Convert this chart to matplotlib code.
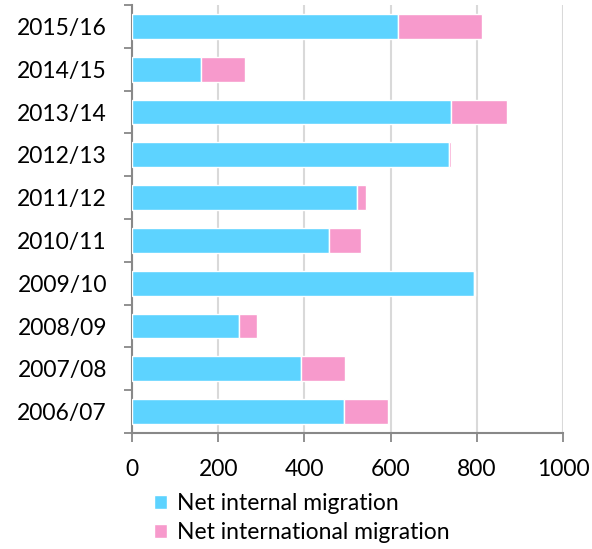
import numpy as np
import matplotlib
matplotlib.use('Agg')
import matplotlib.pyplot as plt
from matplotlib.ticker import FixedLocator

# Data (thousands)
years = ['2006/07', '2007/08', '2008/09', '2009/10', '2010/11',
         '2011/12', '2012/13', '2013/14', '2014/15', '2015/16']
internal = [492, 391, 248, 793, 458, 521, 735, 739, 159, 618]
international = [103, 103, 42, 2, 74, 21, 4, 131, 104, 193]

plt.rcParams['font.family'] = ['Lato', 'DejaVu Sans']

blue = '#5dd3ff'
pink = '#f79acc'

fig = plt.figure(figsize=(5.92, 5.49), dpi=100)
ax = fig.add_axes([132 / 592, 1 - 433 / 549, (563 - 132) / 592, (433 - 5) / 549])

y = np.arange(len(years))
ax.barh(y, internal, height=0.58, color=blue, edgecolor='white', linewidth=1,
        label='Net internal migration', zorder=3)
ax.barh(y, international, left=internal, height=0.58, color=pink,
        edgecolor='white', linewidth=1, label='Net international migration', zorder=3)

ax.set_xlim(0, 1000)
ax.set_ylim(-0.5, len(years) - 0.5)
ax.set_xticks(range(0, 1001, 200))
ax.set_yticks(y)
ax.set_yticklabels(years)
ax.yaxis.set_minor_locator(FixedLocator(np.arange(-0.5, len(years), 1)))
ax.tick_params(axis='y', which='major', length=0, pad=18, labelsize=16.5)
ax.tick_params(axis='y', which='minor', length=6, width=1.3, color='#888888')
ax.tick_params(axis='x', length=6.5, width=1.3, color='#888888', pad=12, labelsize=16.5)

ax.grid(axis='x', color='#d9d9d9', linewidth=1.5, zorder=0)
for s in ['top', 'right']:
    ax.spines[s].set_visible(False)
for s in ['left', 'bottom']:
    ax.spines[s].set_color('#888888')
    ax.spines[s].set_linewidth(1.5)

handles, labels = ax.get_legend_handles_labels()
fig.legend(handles, labels, loc='upper left', bbox_to_anchor=(145 / 592, 1 - 484 / 549),
           frameon=False, fontsize=16.5, handlelength=0.55, handleheight=0.55,
           handletextpad=0.45, labelspacing=0.36, borderaxespad=0)

fig.savefig('out.png', dpi=100)
